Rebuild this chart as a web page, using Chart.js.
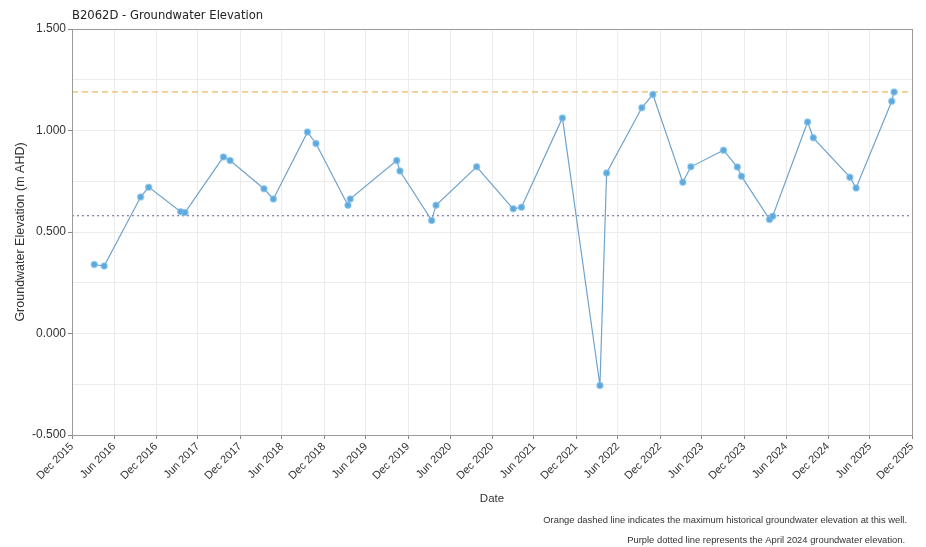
<!DOCTYPE html>
<html>
<head>
<meta charset="utf-8">
<script src="https://cdn.jsdelivr.net/npm/chart.js@4"></script>
<style>
  html, body { margin: 0; padding: 0; background: #fff; }
  #wrap { width: 926px; height: 547px; }
</style>
</head>
<body>
<div id="wrap"><canvas id="gw-chart" width="926" height="547"></canvas></div>
<script>
// sampling dates and groundwater elevations (m AHD)
const sampleDates = [
  '2016-03-07', '2016-04-19', '2016-09-25', '2016-10-30', '2017-03-18', '2017-04-06',
  '2017-09-20', '2017-10-19', '2018-03-15', '2018-04-25', '2018-09-20', '2018-10-27',
  '2019-03-15', '2019-03-25', '2019-10-13', '2019-10-27', '2020-03-13', '2020-04-01',
  '2020-09-25', '2021-03-03', '2021-04-08', '2021-10-03', '2022-03-15', '2022-04-13',
  '2022-09-13', '2022-10-31', '2023-03-10', '2023-04-14', '2023-09-03', '2023-11-02',
  '2023-11-20', '2024-03-21', '2024-04-04', '2024-09-03', '2024-09-28', '2025-03-06',
  '2025-04-02', '2025-09-04', '2025-09-14'
];
const elevations = [
  0.340, 0.332, 0.672, 0.721, 0.600, 0.596,
  0.870, 0.852, 0.713, 0.663, 0.992, 0.936,
  0.632, 0.663, 0.852, 0.800, 0.557, 0.632,
  0.821, 0.614, 0.622, 1.062, -0.256, 0.791,
  1.112, 1.177, 0.745, 0.821, 0.903, 0.820,
  0.775, 0.562, 0.578, 1.042, 0.964, 0.770,
  0.717, 1.144, 1.190
];

// reference lines
const maxHistorical = 1.19;
const april2024Level = 0.58;

// x axis ticks
const tickDates = [
  '2015-12-01', '2016-06-01', '2016-12-01', '2017-06-01', '2017-12-01', '2018-06-01',
  '2018-12-01', '2019-06-01', '2019-12-01', '2020-06-01', '2020-12-01', '2021-06-01',
  '2021-12-01', '2022-06-01', '2022-12-01', '2023-06-01', '2023-12-01', '2024-06-01',
  '2024-12-01', '2025-06-01', '2025-12-01'
];
const tickLabels = [
  'Dec 2015', 'Jun 2016', 'Dec 2016', 'Jun 2017', 'Dec 2017', 'Jun 2018',
  'Dec 2018', 'Jun 2019', 'Dec 2019', 'Jun 2020', 'Dec 2020', 'Jun 2021',
  'Dec 2021', 'Jun 2022', 'Dec 2022', 'Jun 2023', 'Dec 2023', 'Jun 2024',
  'Dec 2024', 'Jun 2025', 'Dec 2025'
];

const chartTitle = 'B2062D - Groundwater Elevation';
const footNotes = [
  'Orange dashed line indicates the maximum historical groundwater elevation at this well.',
  'Purple dotted line represents the April 2024 groundwater elevation.'
];

// date string -> decimal year
function toYear(s) {
  const [y, m, d] = s.split('-').map(Number);
  const start = Date.UTC(y, 0, 1);
  const end = Date.UTC(y + 1, 0, 1);
  return y + (Date.UTC(y, m - 1, d) - start) / (end - start);
}

const xMin = toYear(tickDates[0]);
const xMax = toYear(tickDates[tickDates.length - 1]);
const FONT = "'Liberation Sans', Arial, sans-serif";

const points = sampleDates.map((d, i) => ({ x: toYear(d), y: elevations[i] }));

// title, footnotes and the box around the plot
const decorPlugin = {
    id: 'decor',
    afterDraw(chart) {
        const ctx = chart.ctx;
        const a = chart.chartArea;
        ctx.save();
        ctx.strokeStyle = '#9a9a9a';
        ctx.lineWidth = 1;
        ctx.strokeRect(a.left + 0.5, a.top + 0.5, a.right - a.left, a.bottom - a.top);

        ctx.fillStyle = '#222';
        ctx.font = "11.6px 'DejaVu Sans', sans-serif";
        ctx.textAlign = 'left';
        ctx.textBaseline = 'middle';
        ctx.fillText(chartTitle, a.left, 15.5);

        ctx.fillStyle = '#333';
        ctx.font = '9.4px ' + FONT;
        ctx.textAlign = 'right';
        ctx.fillText(footNotes[0], 907, 520);
        ctx.fillText(footNotes[1], 905, 540);
        ctx.restore();
    }
};

const ctx = document.getElementById('gw-chart').getContext('2d');

new Chart(ctx, {
    type: 'line',
    data: {
        datasets: [
            {
                label: 'Groundwater Elevation',
                data: points,
                borderColor: '#6fa3cc',
                borderWidth: 1.2,
                backgroundColor: '#5fa8dc',
                pointBackgroundColor: '#5fa8dc',
                pointBorderColor: 'rgba(120,190,235,0.6)',
                pointBorderWidth: 1.5,
                pointRadius: 3,
                tension: 0,
                fill: false,
            },
            {
                label: 'Maximum historical',
                data: [{ x: xMin, y: maxHistorical }, { x: xMax, y: maxHistorical }],
                borderColor: '#e3a63c',
                borderWidth: 1,
                borderDash: [6, 4],
                pointRadius: 0,
                fill: false,
            },
            {
                label: 'April 2024',
                data: [{ x: xMin, y: april2024Level }, { x: xMax, y: april2024Level }],
                borderColor: '#6a5c8e',
                borderWidth: 1,
                borderDash: [2, 3],
                pointRadius: 0,
                fill: false,
            }
        ]
    },
    options: {
        responsive: false,
        animation: false,
        layout: {
            padding: { top: 29, right: 14, bottom: 40, left: 0 }
        },
        plugins: {
            legend: { display: false },
            tooltip: { enabled: false },
        },
        scales: {
            x: {
                type: 'linear',
                min: xMin,
                max: xMax,
                afterBuildTicks: (scale) => {
                    scale.ticks = tickDates.map(d => ({ value: toYear(d) }));
                },
                afterFit: (scale) => { scale.height = 72; },
                ticks: {
                    autoSkip: false,
                    maxRotation: 45,
                    minRotation: 45,
                    padding: 1,
                    color: '#333',
                    font: { family: FONT, size: 11 },
                    callback: (value, index) => tickLabels[index],
                },
                grid: {
                    color: '#ececec',
                    tickColor: '#888',
                    tickLength: 4,
                },
                border: { color: '#888' },
                title: {
                    display: true,
                    text: 'Date',
                    color: '#333',
                    font: { family: FONT, size: 11.5 },
                    padding: { top: 0, bottom: 1 },
                },
            },
            y: {
                min: -0.5,
                max: 1.5,
                afterFit: (scale) => { scale.width = 72; },
                ticks: {
                    stepSize: 0.25,
                    padding: 2,
                    color: '#333',
                    font: { family: FONT, size: 12 },
                    callback: (value) => (Math.abs(value * 2 - Math.round(value * 2)) < 1e-6 ? value.toFixed(3) : ''),
                },
                grid: {
                    color: '#ececec',
                    tickLength: 4,
                    tickColor: (c) => (c.tick && Math.abs(c.tick.value * 2 - Math.round(c.tick.value * 2)) < 1e-6 ? '#888' : 'rgba(0,0,0,0)'),
                },
                border: { color: '#888' },
                title: {
                    display: true,
                    text: 'Groundwater Elevation (m AHD)',
                    color: '#333',
                    font: { family: FONT, size: 12.5 },
                    padding: { top: 13, bottom: 4 },
                },
            }
        }
    },
    plugins: [decorPlugin]
});
</script>
</body>
</html>
